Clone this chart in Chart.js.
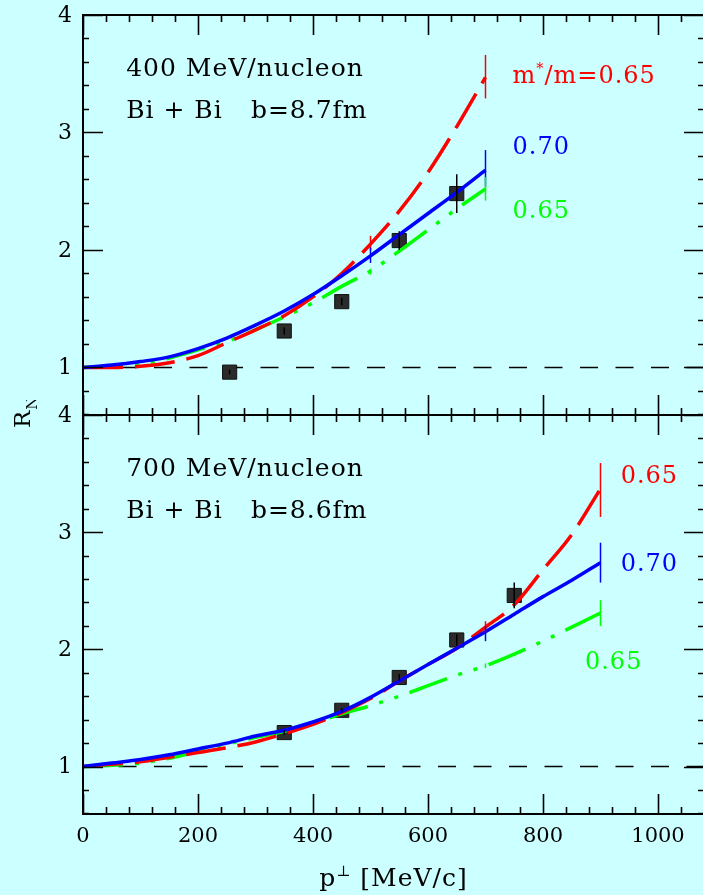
<!DOCTYPE html>
<html><head><meta charset="utf-8">
<script src="https://cdn.jsdelivr.net/npm/chart.js@4/dist/chart.umd.min.js"></script>
<style>
html,body{margin:0;padding:0;background:#ccffff;overflow:hidden;}
#wrap{position:relative;width:703px;height:895px;overflow:hidden;background:#ccffff;}
canvas{position:absolute;left:0;}
#c1{top:0px}
#c2{top:400px}
</style></head><body>
<div id="wrap"><canvas id="c1" width="720" height="430"></canvas><canvas id="c2" width="720" height="495"></canvas></div>
<script>
// ---------- data ----------
const xTickValues = [0, 200, 400, 600, 800, 1000];
const yTickValues = [1, 2, 3, 4];

// 400 MeV/nucleon panel
const topX     = [0, 50, 100, 150, 200, 250, 300, 350, 400, 450, 500, 550, 600, 650, 700];
const topRed   = [1.00, 1.00, 1.01, 1.04, 1.10, 1.21, 1.32, 1.44, 1.60, 1.80, 2.05, 2.33, 2.66, 3.05, 3.47];
const topBlue  = [1.00, 1.02, 1.05, 1.09, 1.16, 1.25, 1.36, 1.48, 1.62, 1.78, 1.95, 2.13, 2.31, 2.49, 2.68];
const topGreen = [1.00, 1.01, 1.03, 1.08, 1.15, 1.22, 1.32, 1.43, 1.55, 1.69, 1.82, 1.99, 2.17, 2.35, 2.52];
const topDataX   = [255, 350, 450, 550, 650];
const topDataY   = [0.96, 1.31, 1.56, 2.08, 2.48];
const topDataErr = [0.02, 0.03, 0.03, 0.08, 0.165];
// theory uncertainty bars: [x, low, high]
const topRedBars   = [[500, 2.00, 2.12], [700, 3.29, 3.66]];
const topBlueBars  = [[500, 1.89, 2.02], [700, 2.54, 2.85]];
const topGreenBars = [[500, 1.79, 1.84], [700, 2.42, 2.62]];

// 700 MeV/nucleon panel
const botX     = [0, 50, 100, 150, 200, 250, 300, 350, 400, 450, 500, 550, 600, 650, 700, 750, 800, 850, 900];
const botRed   = [1.00, 1.02, 1.04, 1.08, 1.12, 1.16, 1.21, 1.28, 1.36, 1.46, 1.58, 1.73, 1.87, 2.01, 2.19, 2.38, 2.68, 2.98, 3.37];
const botBlue  = [1.00, 1.03, 1.06, 1.10, 1.15, 1.20, 1.26, 1.31, 1.38, 1.47, 1.59, 1.73, 1.87, 2.01, 2.15, 2.30, 2.45, 2.59, 2.74];
const botGreen = [1.00, 1.01, 1.03, 1.07, 1.13, 1.19, 1.25, 1.30, 1.37, 1.45, 1.52, 1.60, 1.69, 1.78, 1.86, 1.96, 2.07, 2.19, 2.31];
const botDataX   = [350, 450, 550, 650, 750];
const botDataY   = [1.29, 1.48, 1.76, 2.08, 2.46];
const botDataErr = [0.02, 0.02, 0.03, 0.05, 0.11];
const botRedBars   = [[700, 2.14, 2.24], [900, 3.13, 3.59]];
const botBlueBars  = [[700, 2.07, 2.20], [900, 2.57, 2.91]];
const botGreenBars = [[700, 1.84, 1.88], [900, 2.20, 2.42]];

const refLevel = 1;

// ---------- styles ----------
const RED = '#ff0000', BLUE = '#0000ff', GREEN = '#00ff00';
const FONT = '"DejaVu Serif", "Liberation Serif", serif';
const X_MIN = 0, X_MAX = 1080, Y_MIN = 0.595, Y_MAX = 4;

function pts(xs, ys) { return xs.map((x, i) => ({x: x, y: ys[i]})); }

function drawRich(ctx, x, y, parts, size, color) {
  ctx.fillStyle = color; ctx.textBaseline = 'alphabetic'; ctx.textAlign = 'left';
  let cx = x;
  for (const p of parts) {
    const s = p.sup ? size * 0.6 : (p.sub ? size * 0.65 : size);
    ctx.font = s + 'px ' + FONT;
    const dy = p.sup ? -size * 0.42 : (p.sub ? size * 0.3 : 0);
    ctx.fillText(p.t, cx, y + dy);
    cx += ctx.measureText(p.t).width;
  }
}

function makePlugin(cfg) {
  return {
    id: 'panel',
    afterDatasetsDraw(chart) {
      const ctx = chart.ctx, xs = chart.scales.x, ys = chart.scales.y;
      ctx.save();
      ctx.strokeStyle = '#000'; ctx.lineWidth = 1.5;
      cfg.dataX.forEach((x, i) => {
        const px = xs.getPixelForValue(x);
        ctx.beginPath();
        ctx.moveTo(px, ys.getPixelForValue(cfg.dataY[i] - cfg.dataErr[i]));
        ctx.lineTo(px, ys.getPixelForValue(cfg.dataY[i] + cfg.dataErr[i]));
        ctx.stroke();
      });
      cfg.bars.forEach(b => {
        ctx.strokeStyle = b.color; ctx.lineWidth = 1.5;
        b.list.forEach(t => {
          const px = xs.getPixelForValue(t[0]);
          ctx.beginPath();
          ctx.moveTo(px, ys.getPixelForValue(t[1]));
          ctx.lineTo(px, ys.getPixelForValue(t[2]));
          ctx.stroke();
        });
      });
      ctx.letterSpacing = '1px';
      cfg.notes.forEach(n => {
        drawRich(ctx, xs.getPixelForValue(n.x), ys.getPixelForValue(n.y), n.parts, n.size, n.color);
      });
      ctx.letterSpacing = '0px';
      ctx.restore();
    },
    afterDraw(chart) {
      const ctx = chart.ctx, a = chart.chartArea, xs = chart.scales.x, ys = chart.scales.y;
      ctx.save();
      ctx.strokeStyle = '#000';
      ctx.lineWidth = 1.6;
      ctx.beginPath();
      for (let i = Math.ceil(X_MIN / 40); i * 40 <= X_MAX; i++) {
        const px = Math.round(xs.getPixelForValue(i * 40)) + 0.5;
        const L = (i % 5 === 0) ? 20 : 7;
        ctx.moveTo(px, a.top); ctx.lineTo(px, a.top + L);
        ctx.moveTo(px, a.bottom); ctx.lineTo(px, a.bottom - L);
      }
      for (let i = Math.ceil(Y_MIN / 0.2 - 1e-9); i * 0.2 <= Y_MAX + 1e-9; i++) {
        const py = Math.round(ys.getPixelForValue(i * 0.2)) + 0.5;
        const L = (i % 5 === 0) ? 20 : 6;
        ctx.moveTo(a.left, py); ctx.lineTo(a.left + L, py);
        ctx.moveTo(a.right, py); ctx.lineTo(a.right - L, py);
      }
      ctx.stroke();
      ctx.lineWidth = 2;
      ctx.strokeRect(a.left, a.top, a.right - a.left, a.bottom - a.top);
      if (cfg.titles) {
        ctx.letterSpacing = '1px';
        const parts = [{t: 'p'}, {t: '\u22A5', sup: true}, {t: ' [MeV/c]'}];
        let w = 0;
        parts.forEach(p => { ctx.font = (p.sup ? 15 : 25) + 'px ' + FONT; w += ctx.measureText(p.t).width; });
        const cx = (a.left + a.right) / 2 - w / 2;
        drawRich(ctx, cx, a.bottom + 72, parts, 25, '#000');
        ctx.translate(a.left - 53, a.top + 13);
        ctx.rotate(-Math.PI / 2);
        drawRich(ctx, 0, 0, [{t: 'R'}, {t: 'N', sub: true}], 23, '#000');
        ctx.letterSpacing = '0px';
      }
      ctx.restore();
    }
  };
}

function makeChart(id, p) {
  const lineDs = (label, xs, ys, color, dash, order) => ({
    type: 'line', label: label, data: pts(xs, ys), borderColor: color, borderWidth: 3.5,
    borderDash: dash, pointRadius: 0, fill: false, cubicInterpolationMode: 'monotone',
    borderCapStyle: 'butt', order: order
  });
  return new Chart(document.getElementById(id), {
    type: 'line',
    data: {
      datasets: [
        lineDs('m*/m=0.70', p.x, p.blue, BLUE, [], 1),
        lineDs('m*/m=0.65', p.x, p.red, RED, [40, 12], 2),
        lineDs('m*/m=0.65 (alt)', p.x, p.green, GREEN, [40, 12, 4, 12, 4, 12], 3),
        {
          type: 'scatter', label: 'data', data: pts(p.dataX, p.dataY),
          pointStyle: 'rect', pointRadius: 10, backgroundColor: '#2b2b2b',
          borderColor: '#111', borderWidth: 1, order: 10
        },
        {
          type: 'line', label: 'R=1', data: [{x: X_MIN, y: refLevel}, {x: X_MAX, y: refLevel}],
          borderColor: '#000', borderWidth: 1.5, borderDash: [18, 17.5], pointRadius: 0, order: 20
        }
      ]
    },
    options: {
      responsive: false, animation: false, events: [],
      layout: {padding: {top: 15, left: 0, right: 16, bottom: 0}},
      plugins: {legend: {display: false}, tooltip: {enabled: false}},
      scales: {
        x: {
          type: 'linear', min: X_MIN, max: X_MAX, position: 'bottom',
          grid: {display: false, drawTicks: false}, border: {display: false},
          afterBuildTicks: s => { s.ticks = xTickValues.map(v => ({value: v})); },
          afterFit: s => { s.height = p.xHeight; s.paddingLeft = 0; s.paddingRight = 0; },
          ticks: {display: p.showX, padding: 10, color: '#000', font: {family: FONT, size: 21},
                  callback: v => String(v)}
        },
        y: {
          type: 'linear', min: Y_MIN, max: Y_MAX,
          grid: {display: false, drawTicks: false}, border: {display: false},
          afterBuildTicks: s => { s.ticks = yTickValues.map(v => ({value: v})); },
          afterFit: s => { s.width = 83; s.paddingTop = 0; s.paddingBottom = 0; },
          ticks: {padding: 11, color: '#000', labelOffset: 1, font: {family: FONT, size: 22},
                  callback: v => String(v)}
        }
      }
    },
    plugins: [makePlugin(p)]
  });
}

makeChart('c1', {
  x: topX, red: topRed, blue: topBlue, green: topGreen,
  dataX: topDataX, dataY: topDataY, dataErr: topDataErr,
  bars: [{color: RED, list: topRedBars}, {color: BLUE, list: topBlueBars}, {color: GREEN, list: topGreenBars}],
  xHeight: 15, showX: false, titles: false,
  notes: [
    {x: 75, y: 3.48, parts: [{t: '400 MeV/nucleon'}], size: 25, color: '#000'},
    {x: 75, y: 3.12, parts: [{t: 'Bi + Bi'}], size: 25, color: '#000'},
    {x: 292, y: 3.12, parts: [{t: 'b=8.7fm'}], size: 25, color: '#000'},
    {x: 747, y: 3.42, parts: [{t: 'm'}, {t: '*', sup: true}, {t: '/m=0.65'}], size: 24, color: RED},
    {x: 747, y: 2.82, parts: [{t: '0.70'}], size: 24, color: BLUE},
    {x: 747, y: 2.27, parts: [{t: '0.65'}], size: 24, color: GREEN}
  ]
});

makeChart('c2', {
  x: botX, red: botRed, blue: botBlue, green: botGreen,
  dataX: botDataX, dataY: botDataY, dataErr: botDataErr,
  bars: [{color: RED, list: botRedBars}, {color: BLUE, list: botBlueBars}, {color: GREEN, list: botGreenBars}],
  xHeight: 81, showX: true, titles: true,
  notes: [
    {x: 75, y: 3.48, parts: [{t: '700 MeV/nucleon'}], size: 25, color: '#000'},
    {x: 75, y: 3.12, parts: [{t: 'Bi + Bi'}], size: 25, color: '#000'},
    {x: 292, y: 3.12, parts: [{t: 'b=8.6fm'}], size: 25, color: '#000'},
    {x: 935, y: 3.42, parts: [{t: '0.65'}], size: 24, color: RED},
    {x: 935, y: 2.665, parts: [{t: '0.70'}], size: 24, color: BLUE},
    {x: 873, y: 1.83, parts: [{t: '0.65'}], size: 24, color: GREEN}
  ]
});
</script>
</body></html>
